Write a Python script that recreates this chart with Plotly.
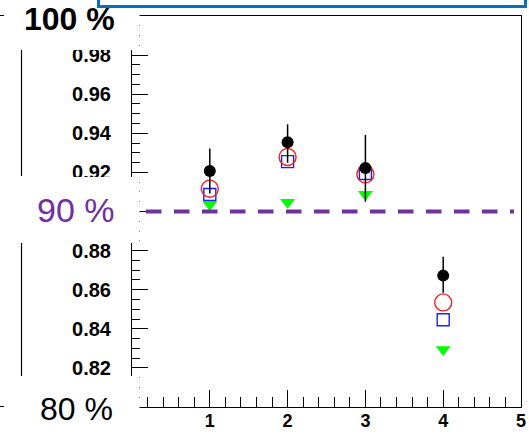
import plotly.graph_objects as go

# ---- data ----
x_bins = [1, 2, 3, 4]
black_vals = [0.9207, 0.9354, 0.9222, 0.8672]
black_err_plus = [0.0115, 0.0092, 0.0170, 0.0097]
black_err_minus = [0.0115, 0.0105, 0.0172, 0.0088]
red_vals = [0.9116, 0.9279, 0.9190, 0.8535]
blue_vals = [0.9087, 0.9255, 0.9194, 0.8446]
green_vals = [0.9036, 0.9047, 0.9088, 0.8294]

x_tickvals = [1, 2, 3, 4, 5]
x_ticktext = ["1", "2", "3", "4", "5"]
y_tickvals = [0.80, 0.82, 0.84, 0.86, 0.88, 0.90, 0.92, 0.94, 0.96, 0.98, 1.00]
y_ticktext = ["", "0.82", "0.84", "0.86", "0.88", "", "0.92", "0.94", "0.96", "0.98", ""]
threshold = 0.90
pct_labels = ["100 %", "90 %", "80 %"]

W, H = 529, 434
ML, MR, MT, MB = 132, 8, 16, 27
PW = W - ML - MR
PH = H - MT - MB


def px(x):
    return (x - ML) / PW


def py(y):
    return (H - MB - y) / PH


PURPLE = "#7030A0"
FONT = "Liberation Sans, Arial, sans-serif"

fig = go.Figure()
fig.add_trace(go.Scatter(x=x_bins, y=green_vals, mode="markers",
                         marker=dict(symbol="triangle-down", size=13, color="#00FF00"),
                         showlegend=False, hoverinfo="skip"))
fig.add_trace(go.Scatter(x=x_bins, y=blue_vals, mode="markers",
                         marker=dict(symbol="square-open", size=12, color="#1F1FF0",
                                     line=dict(width=1.4, color="#1F1FF0")),
                         showlegend=False, hoverinfo="skip"))
fig.add_trace(go.Scatter(x=x_bins, y=red_vals, mode="markers",
                         marker=dict(symbol="circle-open", size=17, color="#F02020",
                                     line=dict(width=1.4, color="#F02020")),
                         showlegend=False, hoverinfo="skip"))
fig.add_trace(go.Scatter(x=x_bins, y=black_vals, mode="markers",
                         marker=dict(symbol="circle", size=12, color="black"),
                         error_y=dict(type="data", array=black_err_plus,
                                      arrayminus=black_err_minus, color="black",
                                      thickness=1.5, width=0),
                         showlegend=False, hoverinfo="skip"))

shapes = []
# dashed threshold line
shapes.append(dict(type="line", xref="paper", yref="y", x0=px(146), x1=px(514),
                   y0=threshold, y1=threshold,
                   line=dict(color=PURPLE, width=4, dash="15.5px,12.5px"), layer="above"))
# white boxes covering labels
for (y0, y1) in [(-5, 50), (177, 243), (376, 440)]:
    shapes.append(dict(type="rect", xref="paper", yref="paper", x0=px(4), x1=px(139.5),
                       y0=py(y1), y1=py(y0), fillcolor="white", line=dict(width=0),
                       layer="above"))
# left vertical lines
for (y0, y1) in [(50, 176), (243, 376)]:
    shapes.append(dict(type="line", xref="paper", yref="paper", x0=px(21.5), x1=px(21.5),
                       y0=py(y1), y1=py(y0), line=dict(color="black", width=1.2),
                       layer="above"))
# tiny horizontal segments at left edge
for yy in [15.5, 406.5]:
    shapes.append(dict(type="line", xref="paper", yref="paper", x0=px(0), x1=px(4),
                       y0=py(yy), y1=py(yy), line=dict(color="black", width=1),
                       layer="above"))
# blue frame at the top
shapes.append(dict(type="rect", xref="paper", yref="paper", x0=px(98.5), x1=px(525.5),
                   y0=py(6.5), y1=py(-20), line=dict(color="#0070C0", width=3),
                   fillcolor="rgba(0,0,0,0)", layer="above"))

annotations = [
    dict(text=pct_labels[0], xref="paper", yref="paper", x=px(69), y=py(19),
         showarrow=False, xanchor="center", yanchor="middle",
         font=dict(family=FONT, size=32, color="black", weight="bold")),
    dict(text=pct_labels[1], xref="paper", yref="paper", x=px(76), y=py(210),
         showarrow=False, xanchor="center", yanchor="middle",
         font=dict(family=FONT, size=34, color=PURPLE)),
    dict(text=pct_labels[2], xref="paper", yref="paper", x=px(76), y=py(409),
         showarrow=False, xanchor="center", yanchor="middle",
         font=dict(family=FONT, size=32, color="black")),
]

fig.update_layout(
    template="none",
    width=W, height=H, autosize=False,
    margin=dict(l=ML, r=MR, t=MT, b=MB, pad=0, autoexpand=False),
    paper_bgcolor="white", plot_bgcolor="white",
    shapes=shapes, annotations=annotations,
    xaxis=dict(range=[0, 5], tickmode="array", tickvals=x_tickvals, ticktext=x_ticktext,
               automargin=False, ticklabelstandoff=-3,
               ticks="inside", ticklen=17, tickcolor="black", tickwidth=1,
               minor=dict(dtick=0.2, tick0=0, ticks="inside", ticklen=10,
                          tickcolor="black", tickwidth=1),
               showline=True, linecolor="black", linewidth=1, mirror=True,
               showgrid=False, zeroline=False,
               tickfont=dict(family=FONT, size=18, color="black", weight="bold")),
    yaxis=dict(range=[0.8, 1.0], tickmode="array", tickvals=y_tickvals, ticktext=y_ticktext,
               automargin=False, ticklabelstandoff=16,
               ticks="inside", ticklen=16, tickcolor="black", tickwidth=1,
               minor=dict(dtick=0.005, tick0=0.8, ticks="inside", ticklen=8,
                          tickcolor="black", tickwidth=1),
               showline=True, linecolor="black", linewidth=1, mirror=True,
               showgrid=False, zeroline=False,
               tickfont=dict(family=FONT, size=20, color="black", weight="bold")),
)

fig.write_html("out.html",
               config={"displayModeBar": False},
               post_script="document.body.style.margin='0';"
                           "document.body.style.overflow='hidden';")
